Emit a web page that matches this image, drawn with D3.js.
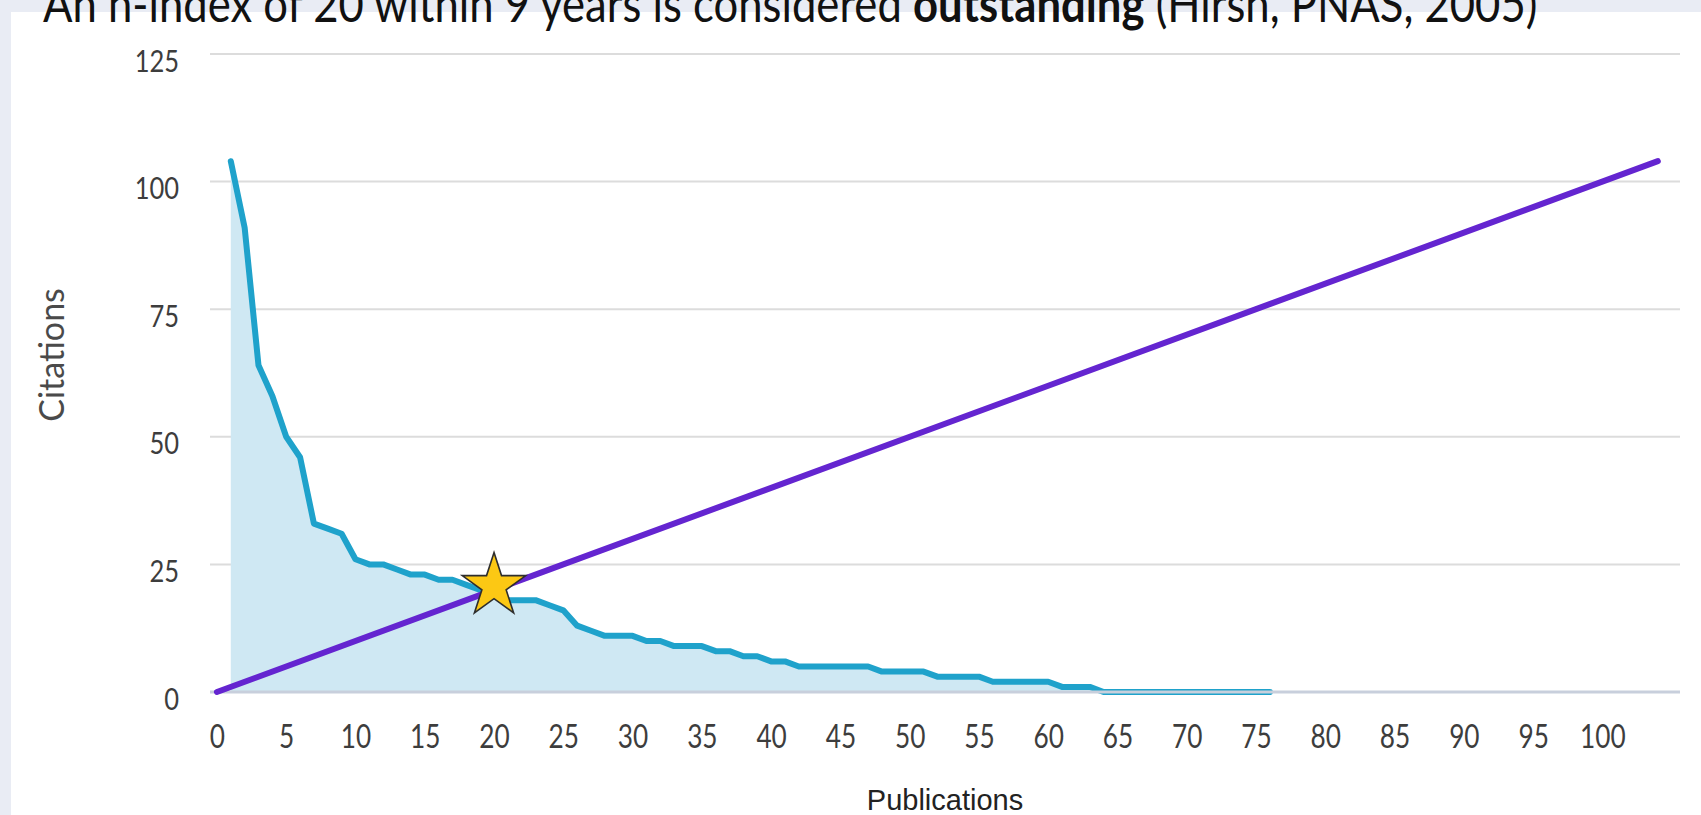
<!DOCTYPE html>
<html>
<head>
<meta charset="utf-8">
<script src="https://cdn.jsdelivr.net/npm/d3@7"></script>
<style>
  html, body { margin: 0; padding: 0; overflow: hidden; background: #e9ecf4; }
</style>
</head>
<body>
<div id="chart"></div>
<script>
// citations per paper, papers ranked from most to least cited
var citations = [104, 91, 64, 58, 50, 46, 33, 32, 31, 26,
                 25, 25, 24, 23, 23, 22, 22, 21, 20, 20,
                 18, 18, 18, 17, 16, 13, 12, 11, 11, 11,
                 10, 10, 9, 9, 9, 8, 8, 7, 7, 6,
                 6, 5, 5, 5, 5, 5, 5, 4, 4, 4,
                 4, 3, 3, 3, 3, 2, 2, 2, 2, 2,
                 1, 1, 1, 0, 0, 0, 0, 0, 0, 0,
                 0, 0, 0, 0, 0, 0];
// y = x reference line, from 0 to the top citation count
var diagonal = [0, 104];
var hIndex = 20;

var xTicks = [0, 5, 10, 15, 20, 25, 30, 35, 40, 45, 50, 55, 60, 65, 70, 75, 80, 85, 90, 95, 100];
var yTicks = [0, 25, 50, 75, 100, 125];

var titleStart = "An h-index of 20 within 9 years is considered ";
var titleBold = "outstanding";
var titleEnd = " (Hirsh, PNAS, 2005)";

var drawChart = function () {
    const width = 1701, height = 815;
    const left = 210, right = 1680;
    const fontFamily = "Lato, 'Open Sans', sans-serif";

    var svg = d3.select("#chart").append("svg")
        .attr("width", width)
        .attr("height", height);

    // grey page + white panel
    svg.append("rect").attr("width", width).attr("height", height).attr("fill", "#e9ecf4");
    svg.append("rect").attr("x", 11).attr("y", 12)
        .attr("width", width - 11).attr("height", height - 12).attr("fill", "#ffffff");

    var x = d3.scaleLinear().domain([-0.5, 105.6]).range([left, right]);
    var y = d3.scaleLinear().domain([0, 125]).range([692, 54]);

    // squeeze a text horizontally to a given width (Calibri stand-in)
    function fitWidth(sel, w, ax) {
        var cur = sel.node().getComputedTextLength();
        var k = w / cur;
        sel.attr("transform", "translate(" + ax + ",0) scale(" + k + ",1) translate(" + (-ax) + ",0)");
    }

    // title (cut off at the top of the picture, as in the source slide)
    var title = svg.append("text")
        .attr("x", 43).attr("y", 22)
        .attr("font-family", fontFamily)
        .attr("font-size", 50)
        .attr("fill", "#111");
    title.append("tspan").text(titleStart);
    title.append("tspan").attr("font-weight", "bold").text(titleBold);
    title.append("tspan").text(titleEnd);
    fitWidth(title, 1495, 43);

    // gridlines
    svg.append("g").selectAll("line")
        .data(yTicks.filter(function (d) { return d > 0; }))
        .enter().append("line")
        .attr("x1", left).attr("x2", right)
        .attr("y1", function (d) { return y(d); })
        .attr("y2", function (d) { return y(d); })
        .attr("stroke", "#dcdcdc")
        .attr("stroke-width", 2);

    // area + curve of citations
    var area = d3.area()
        .x(function (d, i) { return x(i + 1); })
        .y0(y(0))
        .y1(function (d) { return y(d); });
    svg.append("path").datum(citations)
        .attr("d", area)
        .attr("fill", "#cfe8f3");

    var line = d3.line()
        .x(function (d, i) { return x(i + 1); })
        .y(function (d) { return y(d); });
    svg.append("path").datum(citations)
        .attr("d", line)
        .attr("fill", "none")
        .attr("stroke", "#1fa2cb")
        .attr("stroke-width", 6)
        .attr("stroke-linejoin", "round")
        .attr("stroke-linecap", "round");

    // zero axis line
    svg.append("line")
        .attr("x1", left).attr("x2", right)
        .attr("y1", y(0)).attr("y2", y(0))
        .attr("stroke", "#c8cfdc")
        .attr("stroke-width", 3);

    // h-index diagonal
    var diag = d3.line()
        .x(function (d) { return x(d); })
        .y(function (d) { return y(d); });
    svg.append("path").datum(diagonal)
        .attr("d", diag)
        .attr("fill", "none")
        .attr("stroke", "#6425d0")
        .attr("stroke-width", 6)
        .attr("stroke-linecap", "round");

    // star at the h-index
    svg.append("path")
        .attr("d", d3.symbol().type(d3.symbolStar).size(1250)())
        .attr("transform", "translate(" + x(hIndex) + "," + (y(hIndex) - 4) + ")")
        .attr("fill", "#fcc814")
        .attr("stroke", "#2e2e2e")
        .attr("stroke-width", 1.6)
        .attr("stroke-linejoin", "miter");

    // x axis
    var xAxis = svg.append("g")
        .attr("transform", "translate(0," + y(0) + ")")
        .call(d3.axisBottom(x).tickValues(xTicks).tickSize(0).tickPadding(33));
    xAxis.select(".domain").remove();
    xAxis.selectAll("text")
        .attr("font-family", fontFamily)
        .attr("font-size", 32)
        .attr("fill", "#3d3d3d")
        .attr("transform", "scale(0.82,1)");

    // y axis
    var yAxis = svg.append("g")
        .attr("transform", "translate(" + left + ",0)")
        .call(d3.axisLeft(y).tickValues(yTicks).tickSize(0));
    yAxis.select(".domain").remove();
    yAxis.selectAll("text")
        .attr("x", 0)
        .attr("dy", "0.57em")
        .attr("font-family", fontFamily)
        .attr("font-size", 30)
        .attr("fill", "#3d3d3d")
        .attr("transform", "translate(-31,0) scale(0.85,1)");

    // axis titles
    svg.append("text")
        .attr("transform", "translate(50,355) rotate(-90)")
        .attr("text-anchor", "middle")
        .attr("dominant-baseline", "central")
        .attr("font-family", fontFamily)
        .attr("font-size", 34)
        .attr("fill", "#4a4a4a")
        .text("Citations");

    svg.append("text")
        .attr("x", (left + right) / 2)
        .attr("y", 800)
        .attr("text-anchor", "middle")
        .attr("dominant-baseline", "central")
        .attr("font-family", "'Liberation Sans', Arial, sans-serif")
        .attr("font-size", 29)
        .attr("fill", "#222")
        .text("Publications");
};

window.addEventListener("load", drawChart);
</script>
</body>
</html>
